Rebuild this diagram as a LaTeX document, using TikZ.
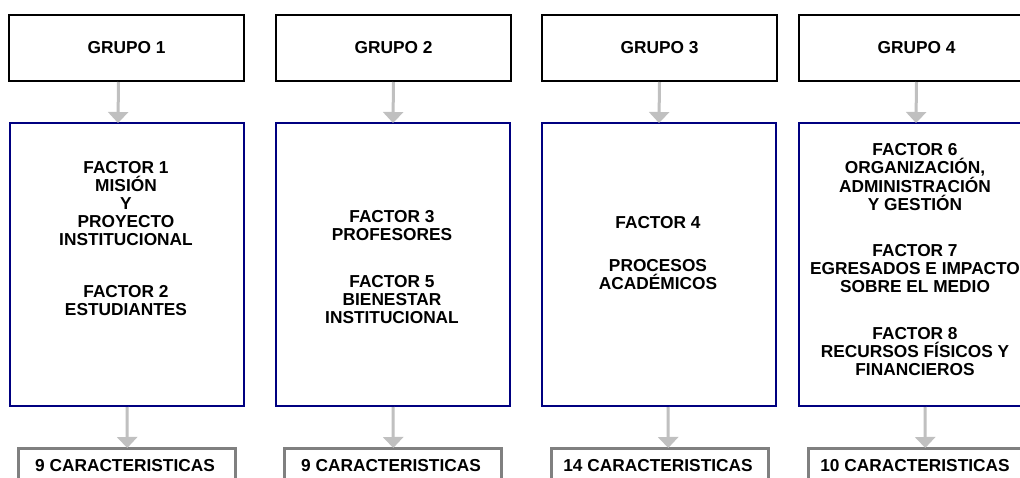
\documentclass[tikz,border=0pt]{standalone}
\usepackage{fontspec}
\setmainfont{Liberation Sans}
\usetikzlibrary{arrows.meta}
\definecolor{navybox}{HTML}{000080}
\definecolor{grayarrow}{HTML}{C0C0C0}
\definecolor{graybox}{HTML}{808080}
\tikzset{
  grupobox/.style={draw=black, line width=2pt, fill=white, minimum width=235pt, minimum height=66pt, anchor=north west, inner sep=0pt},
  factorbox/.style={draw=navybox, line width=2pt, fill=white, minimum width=234pt, minimum height=283pt, anchor=north west, inner sep=0pt},
  carbox/.style={draw=graybox, line width=2.5pt, fill=white, minimum width=217pt, minimum height=45pt, anchor=north west, inner sep=0pt},
  txt/.style={font=\bfseries\fontsize{17.3}{18}\selectfont, align=center, inner sep=0pt},
  arr/.style={draw=grayarrow, line width=3pt, -{Triangle[width=20pt,length=11pt]}, shorten >=-1pt},
}
\begin{document}
\begin{tikzpicture}[x=1pt, y=-1pt]
\clip (0,0) rectangle (1020,477);
\fill[white] (0,0) rectangle (1020,477);
% top boxes
\node[grupobox] (g1) at (8,14) {};
\node[grupobox] (g2) at (275,14) {};
\node[grupobox] (g3) at (541,14) {};
\node[grupobox] (g4) at (798,14) {};
\node[txt] (tg1) at (g1.center) {GRUPO 1};
\node[txt] (tg2) at (g2.center) {GRUPO 2};
\node[txt] (tg3) at (g3.center) {GRUPO 3};
\node[txt] (tg4) at (g4.center) {GRUPO 4};
% middle boxes
\node[factorbox] (m1) at (9,122) {};
\node[factorbox] (m2) at (275,122) {};
\node[factorbox] (m3) at (541,122) {};
\node[factorbox] (m4) at (798,122) {};
% bottom boxes
\node[carbox] (c1) at (17,447) {};
\node[carbox] (c2) at (283,447) {};
\node[carbox] (c3) at (550,447) {};
\node[carbox] (c4) at (807,447) {};
\node[txt] (tc1) at (125,466) {9 CARACTERISTICAS};
\node[txt] (tc2) at (391,466) {9 CARACTERISTICAS};
\node[txt] (tc3) at (658,466) {14 CARACTERISTICAS};
\node[txt] (tc4) at (915,466) {10 CARACTERISTICAS};
% factor texts
\node[txt] (f1) at (126,204) {FACTOR 1\\MISIÓN\\Y\\PROYECTO\\INSTITUCIONAL};
\node[txt] (f2) at (126,301) {FACTOR 2\\ESTUDIANTES};
\node[txt] (f3) at (392,226) {FACTOR 3\\PROFESORES};
\node[txt] (f5) at (392,300) {FACTOR 5\\BIENESTAR\\INSTITUCIONAL};
\node[txt] (f4) at (658,223) {FACTOR 4};
\node[txt] (p4) at (658,275) {PROCESOS\\ACADÉMICOS};
\node[txt] (f6) at (915,177) {FACTOR 6\\ORGANIZACIÓN,\\ADMINISTRACIÓN\\Y GESTIÓN};
\node[txt] (f7) at (915,269) {FACTOR 7\\EGRESADOS E IMPACTO\\SOBRE EL MEDIO};
\node[txt] (f8) at (915,352) {FACTOR 8\\RECURSOS FÍSICOS Y\\FINANCIEROS};
% arrows
\draw[arr] ([xshift=-8pt]g1.south) -- ([xshift=-9pt]m1.north);
\draw[arr] (g2.south) -- (m2.north);
\draw[arr] (g3.south) -- (m3.north);
\draw[arr] (g4.south) -- (m4.north);
\draw[arr] (m1.south) -- ([xshift=0.5pt]c1.north);
\draw[arr] (m2.south) -- ([xshift=0.5pt]c2.north);
\draw[arr] ([xshift=9pt]m3.south) -- ([xshift=8.5pt]c3.north);
\draw[arr] ([xshift=9pt]m4.south) -- ([xshift=8.5pt]c4.north);
\end{tikzpicture}
\end{document}
